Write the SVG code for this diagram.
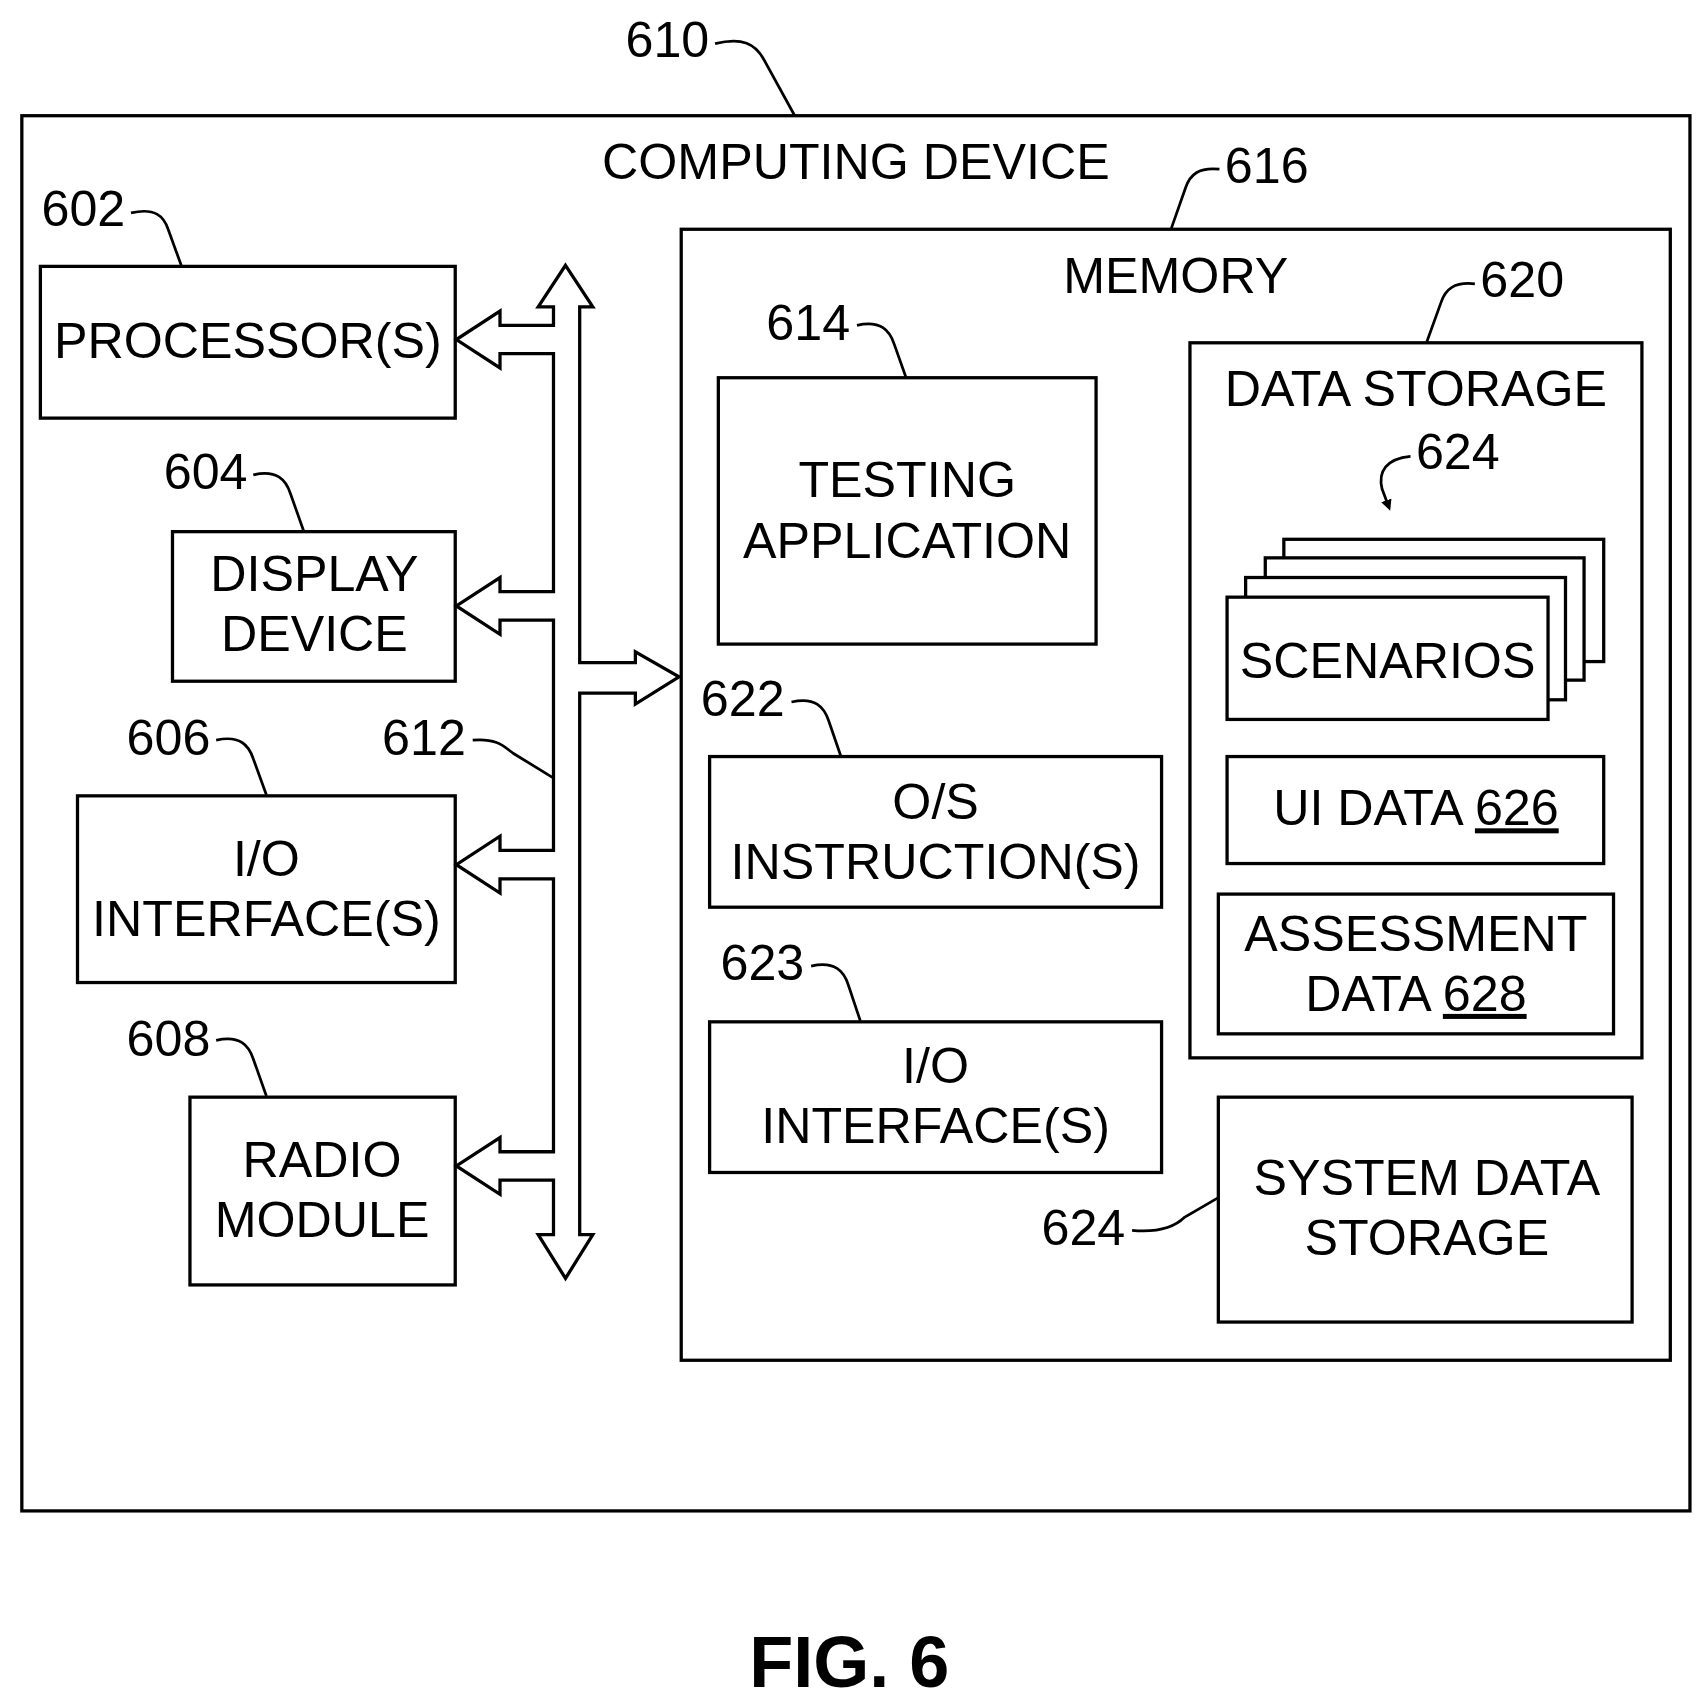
<svg xmlns="http://www.w3.org/2000/svg" width="1703" height="1701" viewBox="0 0 1703 1701">
<style>
.b{fill:#fff;stroke:#000;stroke-width:3}
.l{fill:none;stroke:#000;stroke-width:2.5}
text{font-family:"Liberation Sans",Arial,sans-serif;font-size:46px;fill:#000}
.c{text-anchor:middle}
</style>
<defs>
<marker id="ah" markerWidth="10" markerHeight="10" refX="6" refY="5" orient="auto" markerUnits="userSpaceOnUse" viewBox="0 0 10 10"><path d="M0,0 L10,5 L0,10 Z" fill="#000"/></marker>
</defs>
<rect width="1703" height="1701" fill="#fff"/>
<g transform="scale(1.0917)">
<g id="device610">
<rect class="b" x="20" y="106" width="1528" height="1278"/>
<text class="c" x="784" y="164">COMPUTING DEVICE</text>
<text x="573" y="52">610</text>
</g>
<g id="memory616">
<rect class="b" x="624" y="210" width="906" height="1036"/>
<text class="c" x="1077" y="268">MEMORY</text>
<text x="1122" y="168">616</text>
</g>
<g id="proc602">
<rect class="b" x="37" y="244" width="380" height="139"/>
<text class="c" x="227" y="328">PROCESSOR(S)</text>
<text x="38" y="207">602</text>
</g>
<g id="disp604">
<rect class="b" x="158" y="487" width="259" height="137"/>
<text class="c" x="288" y="541">DISPLAY</text>
<text class="c" x="288" y="596">DEVICE</text>
<text x="150" y="448">604</text>
</g>
<g id="io606">
<rect class="b" x="71" y="729" width="346" height="171"/>
<text class="c" x="244" y="802">I/O</text>
<text class="c" x="244" y="857">INTERFACE(S)</text>
<text x="116" y="692">606</text>
</g>
<g id="radio608">
<rect class="b" x="174" y="1005" width="243" height="172"/>
<text class="c" x="295" y="1078">RADIO</text>
<text class="c" x="295" y="1133">MODULE</text>
<text x="116" y="967">608</text>
</g>
<g id="app614">
<rect class="b" x="658" y="346" width="346" height="244"/>
<text class="c" x="831" y="455">TESTING</text>
<text class="c" x="831" y="511">APPLICATION</text>
<text x="702" y="311">614</text>
</g>
<g id="os622">
<rect class="b" x="650" y="693" width="414" height="138"/>
<text class="c" x="857" y="750">O/S</text>
<text class="c" x="857" y="805">INSTRUCTION(S)</text>
<text x="642" y="656">622</text>
</g>
<g id="io623">
<rect class="b" x="650" y="936" width="414" height="138"/>
<text class="c" x="857" y="992">I/O</text>
<text class="c" x="857" y="1047">INTERFACE(S)</text>
<text x="660" y="898">623</text>
</g>
<g id="ds620">
<rect class="b" x="1090" y="314" width="414" height="655"/>
<text class="c" x="1297" y="372">DATA STORAGE</text>
<text x="1356" y="272">620</text>
</g>
<g id="scen624">
<rect class="b" x="1176" y="494" width="293" height="112"/>
<rect class="b" x="1159" y="511" width="292" height="112"/>
<rect class="b" x="1141" y="529" width="293" height="112"/>
<rect class="b" x="1124" y="547" width="294" height="112"/>
<text class="c" x="1271" y="621">SCENARIOS</text>
<text x="1297" y="430">624</text>
</g>
<g id="ui626">
<rect class="b" x="1124" y="693" width="345" height="98"/>
<text class="c" x="1297" y="756">UI DATA <tspan text-decoration="underline">626</tspan></text>
</g>
<g id="assess628">
<rect class="b" x="1116" y="819" width="362" height="128"/>
<text class="c" x="1297" y="871">ASSESSMENT</text>
<text class="c" x="1297" y="926">DATA <tspan text-decoration="underline">628</tspan></text>
</g>
<g id="sys624">
<rect class="b" x="1116" y="1005" width="379" height="206"/>
<text class="c" x="1307" y="1095">SYSTEM DATA</text>
<text class="c" x="1307" y="1150">STORAGE</text>
<text x="954" y="1140">624</text>
</g>
<g id="bus612">
<text x="350" y="692">612</text>
</g>
<g id="connectors">
<path class="b" d="M518,243 L543,281 L531,281 L531,607 L582,607 L582,597 L622,620 L582,645 L582,635 L531,635 L531,1131 L543,1131 L518,1171 L493,1131 L507,1131 L507,1081 L458,1081 L458,1094 L418,1068 L458,1042 L458,1055 L507,1055 L507,805 L458,805 L458,818 L418,792 L458,766 L458,779 L507,779 L507,568 L458,568 L458,581 L418,555 L458,529 L458,542 L507,542 L507,324 L458,324 L458,337 L418,311 L458,285 L458,298 L507,298 L507,281 L493,281 Z"/>
<path class="l" d="M655,40 C680,34 692,40 700,55 L728,106"/>
<path class="l" d="M1117,155 C1098,153 1090,160 1086,172 L1073,209"/>
<path class="l" d="M120,195 C142,190 150,198 154,210 L166,243"/>
<path class="l" d="M232,435 C254,430 262,440 266,452 L278,486"/>
<path class="l" d="M198,678 C220,673 228,683 232,695 L244,728"/>
<path class="l" d="M198,953 C220,948 228,958 232,970 L244,1004"/>
<path class="l" d="M433,678 C455,676 462,684 470,690 L506,712"/>
<path class="l" d="M785,298 C807,293 815,303 819,315 L830,346"/>
<path class="l" d="M725,643 C747,638 755,648 759,660 L770,692"/>
<path class="l" d="M743,885 C765,880 773,890 777,902 L788,935"/>
<path class="l" d="M1351,260 C1332,258 1324,265 1320,277 L1307,313"/>
<path class="l" d="M1037,1127 C1060,1129 1075,1125 1085,1115 L1116,1097"/>
<path class="l" d="M1292,418 C1270,420 1262,432 1266,448 L1272,464" marker-end="url(#ah)"/>
</g>
<text x="778" y="1545" class="c" style="font-weight:bold;font-size:66px">FIG. 6</text>
</g>
</svg>
